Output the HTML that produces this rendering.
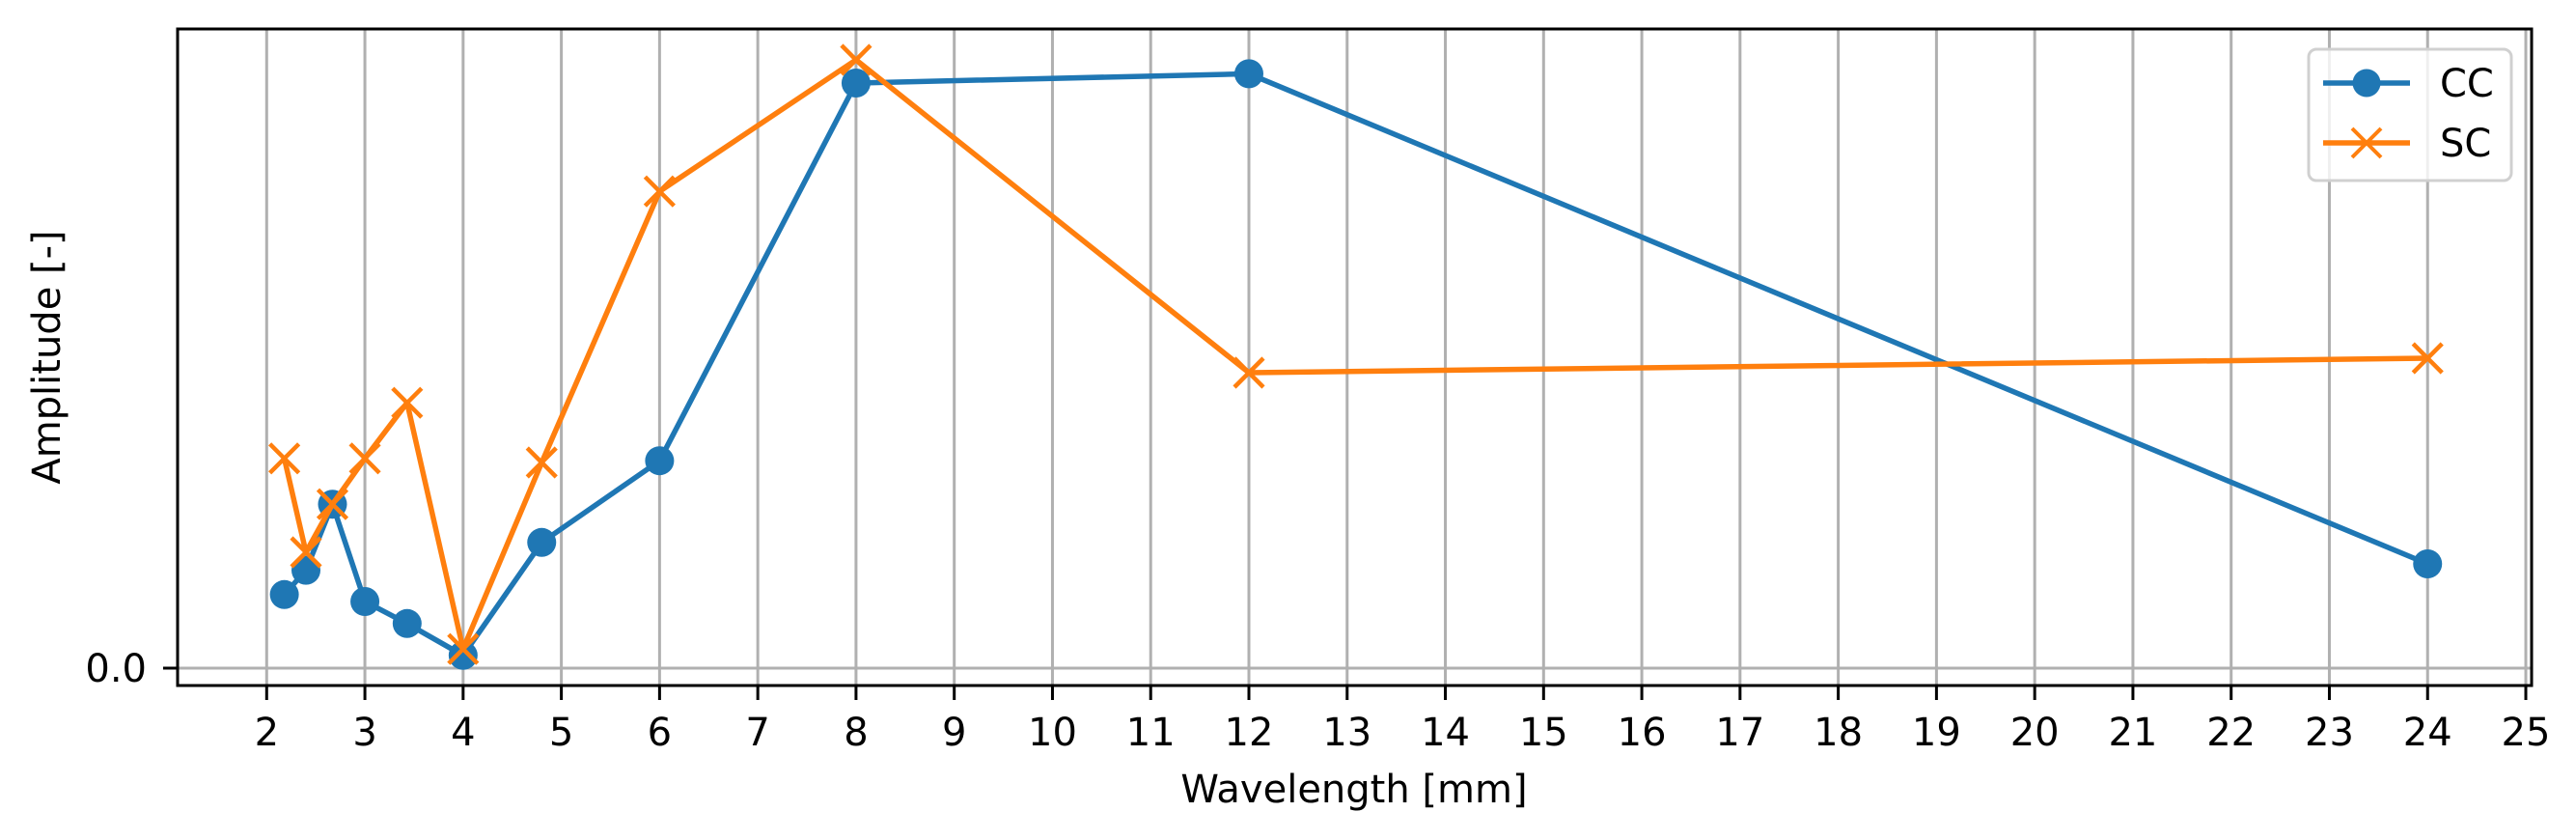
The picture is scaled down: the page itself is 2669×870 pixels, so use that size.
<!DOCTYPE html>
<html><head><meta charset="utf-8"><style>
html,body{margin:0;padding:0;background:#fff;}
svg{display:block;font-family:"DejaVu Sans","Liberation Sans",sans-serif;}
</style></head><body>
<svg id="chart" width="2669" height="870" viewBox="0 0 2669 870" xmlns="http://www.w3.org/2000/svg">
<rect x="0" y="0" width="2669" height="870" fill="#fff"/>
<g id="grid"></g>
<g id="series"></g>
<rect x="184" y="30" width="2439" height="680" fill="none" stroke="#000" stroke-width="3"/>
<g id="ticks"></g>
<text x="1403" y="831" font-size="40" text-anchor="middle">Wavelength [mm]</text>
<text x="0" y="0" font-size="40" text-anchor="middle" transform="translate(62,370) rotate(-90)">Amplitude [-]</text>
<g>
<rect x="2392" y="51" width="210" height="136" rx="8" fill="#fff" fill-opacity="0.8" stroke="#d0d0d0" stroke-width="3"/>
<g>
<line x1="2407" y1="86" x2="2497" y2="86" stroke="#1f77b4" stroke-width="5.5"/>
<circle cx="2452" cy="86" r="14.5" fill="#1f77b4"/>
<text x="2528" y="100" font-size="40">CC</text>
</g>
<g>
<line x1="2407" y1="148" x2="2497" y2="148" stroke="#ff7f0e" stroke-width="5.5"/>
<path d="M2437 133 L2467 163 M2437 163 L2467 133" stroke="#ff7f0e" stroke-width="4"/>
<text x="2528" y="162" font-size="40">SC</text>
</g>
</g>
</svg>
<script>
const wavelengths = [2.18, 2.4, 2.67, 3, 3.43, 4, 4.8, 6, 8, 12, 24];
const ccValues = [0.127, 0.169, 0.283, 0.115, 0.077, 0.022, 0.217, 0.358, 1.01, 1.026, 0.18];
const scValues = [0.362, 0.2, 0.283, 0.362, 0.458, 0.033, 0.355, 0.823, 1.05, 0.51, 0.535];
const xTicks = [2,3,4,5,6,7,8,9,10,11,12,13,14,15,16,17,18,19,20,21,22,23,24,25];
const yTicks = [0.0];

const NS = "http://www.w3.org/2000/svg";
function xs(v){ return 276.3 + (v - 2) * 101.77; }
function ys(v){ return 692 - v * 600; }
function mk(tag, attrs, parent){
  const e = document.createElementNS(NS, tag);
  for (const k in attrs) e.setAttribute(k, attrs[k]);
  parent.appendChild(e);
  return e;
}
const grid = document.getElementById('grid');
const ticks = document.getElementById('ticks');
const series = document.getElementById('series');

xTicks.forEach(t => {
  const g = mk('line', {x1: xs(t), x2: xs(t), y1: 30, y2: 710, stroke: '#b0b0b0', 'stroke-width': 3}, grid);
  
  
  const tk = mk('line', {x1: xs(t), x2: xs(t), y1: 710, y2: 725, stroke: '#000', 'stroke-width': 3}, ticks);
  
  
  const lb = mk('text', {x: xs(t), y: 772, 'font-size': 40, 'text-anchor': 'middle'}, ticks);
  lb.textContent = String(t);
  
  
});
yTicks.forEach(t => {
  const g = mk('line', {x1: 184, x2: 2623, y1: ys(t), y2: ys(t), stroke: '#b0b0b0', 'stroke-width': 3}, grid);
  
  
  const tk = mk('line', {x1: 169, x2: 184, y1: ys(t), y2: ys(t), stroke: '#000', 'stroke-width': 3}, ticks);
  
  
  const lb = mk('text', {x: 152, y: ys(t) + 14, 'font-size': 40, 'text-anchor': 'end'}, ticks);
  lb.textContent = t.toFixed(1);
  
  
});

function drawSeries(vals, color, kind, name){
  const pts = wavelengths.map((w, i) => xs(w).toFixed(1) + ',' + ys(vals[i]).toFixed(1)).join(' ');
  const pl = mk('polyline', {points: pts, fill: 'none', stroke: color, 'stroke-width': 5.5, 'stroke-linejoin': 'round'}, series);
  
  
  wavelengths.forEach((w, i) => {
    const cx = xs(w), cy = ys(vals[i]);
    let m;
    if (kind === 'o') {
      m = mk('circle', {cx: cx, cy: cy, r: 15, fill: color}, series);
    } else {
      m = mk('path', {d: `M${cx-15} ${cy-15} L${cx+15} ${cy+15} M${cx-15} ${cy+15} L${cx+15} ${cy-15}`, stroke: color, 'stroke-width': 4.5, fill: 'none'}, series);
    }
    
    
  });
}
drawSeries(ccValues, '#1f77b4', 'o', 'cc');
drawSeries(scValues, '#ff7f0e', 'x', 'sc');
</script>
</body></html>
